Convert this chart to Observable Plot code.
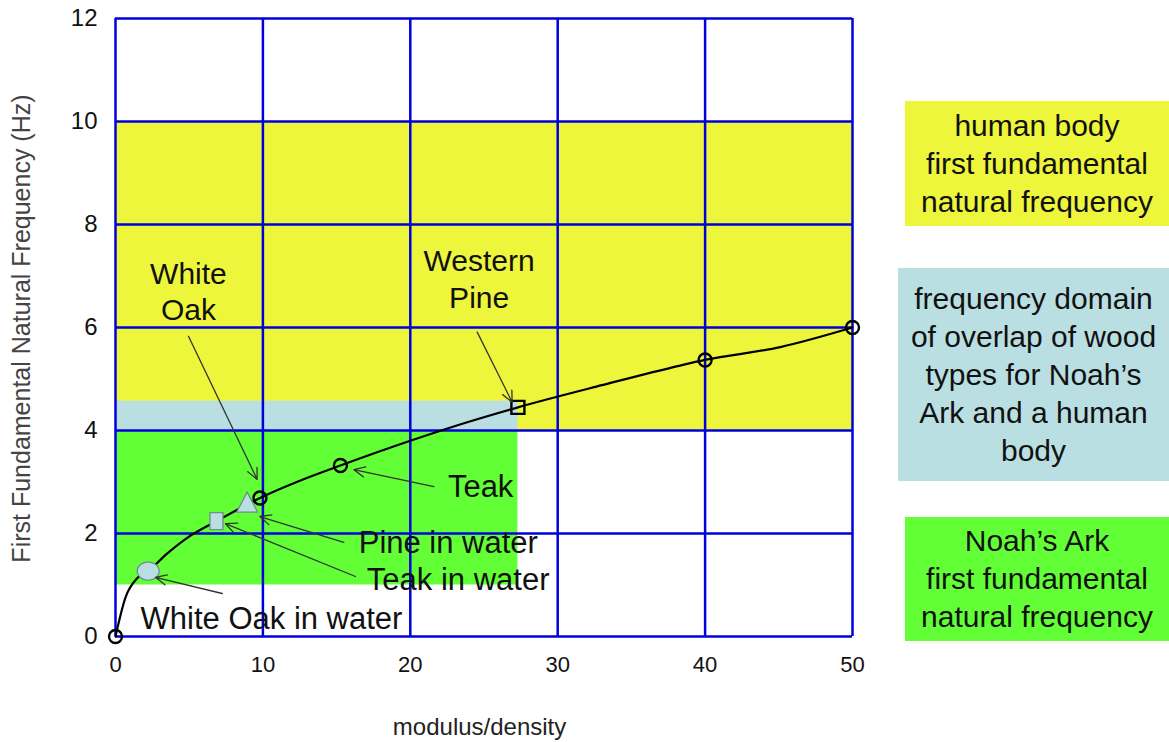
<!DOCTYPE html>
<html>
<head>
<meta charset="utf-8">
<script src="https://cdn.jsdelivr.net/npm/d3@7"></script>
<script src="https://cdn.jsdelivr.net/npm/@observablehq/plot@0.6"></script>
<style>
  html, body { margin: 0; padding: 0; background: #fff; }
  #wrap { position: relative; width: 1169px; height: 742px; font-family: "Liberation Sans", Arial, sans-serif; }
  .box { position: absolute; display: flex; align-items: center; justify-content: center; text-align: center;
         font-size: 30px; line-height: 38px; color: #111; white-space: nowrap; }
</style>
</head>
<body>
<div id="wrap"></div>
<script>
// ---- data ----
const xTicks = [0, 10, 20, 30, 40, 50];
const yTicks = [0, 2, 4, 6, 8, 10, 12];

// frequency bands
const bands = [
  {name: "human body", x1: 0, x2: 50, y1: 4, y2: 10, fill: "#EEF63C"},
  {name: "Noah's Ark", x1: 0, x2: 27.3, y1: 1, y2: 4, fill: "#63FF36"},
  {name: "overlap", x1: 0, x2: 27.3, y1: 4, y2: 4.57, fill: "#B9DFE3"}
];

// curve (modulus/density vs frequency)
const curveX = [0, 0.68, 1.47, 2.22, 3.5, 5.09, 6.85, 8.2, 9.8, 12.55, 15.26, 20.0, 23.86, 27.3, 33, 38.3, 40, 45.1, 50];
const curveY = [0, 0.76, 1.13, 1.27, 1.61, 1.96, 2.24, 2.45, 2.69, 3.03, 3.32, 3.8, 4.16, 4.45, 4.88, 5.26, 5.37, 5.62, 6];

// dry wood markers (open)
const dryNames = ["origin", "White Oak", "Teak", "Western Pine", "p40", "p50"];
const dryX = [0, 9.8, 15.26, 27.3, 40, 50];
const dryY = [0, 2.69, 3.32, 4.45, 5.37, 6];
const dryShape = ["circle", "circle", "circle", "square", "circle", "circle"];

// wood in water markers (filled light blue)
const wetNames = ["White Oak in water", "Teak in water", "Pine in water"];
const wetX = [2.22, 6.85, 8.93];
const wetY = [1.27, 2.24, 2.59];
const wetShape = ["ellipse", "tallsquare", "triangle"];

// annotation labels
const centeredLabels = [
  {text: "White\nOak", x: 4.95, y: 6.72},
  {text: "Western\nPine", x: 24.67, y: 6.97}
];
const leftLabels = [
  {text: "Teak", x: 22.55, y: 2.90},
  {text: "Pine in water", x: 16.5, y: 1.81},
  {text: "Teak in water", x: 17.05, y: 1.09},
  {text: "White Oak in water", x: 1.7, y: 0.33}
];
// annotation arrows
const arrows = [
  {x1: 4.95, y1: 5.83, x2: 9.61, y2: 3.05},
  {x1: 24.54, y1: 5.91, x2: 26.91, y2: 4.55},
  {x1: 21.6, y1: 2.91, x2: 16.17, y2: 3.24},
  {x1: 15.49, y1: 1.83, x2: 9.79, y2: 2.33},
  {x1: 16.28, y1: 1.165, x2: 7.46, y2: 2.19},
  {x1: 7.24, y1: 0.835, x2: 2.71, y2: 1.15}
];

const xLabel = "modulus/density";
const yLabel = "First Fundamental Natural Frequency (Hz)";

const legendBoxes = [
  {lines: ["human body", "first fundamental", "natural frequency"], fill: "#EEF63C", left: 905, top: 101, width: 264, height: 125},
  {lines: ["frequency domain", "of overlap of wood", "types for Noah\u2019s", "Ark and a human", "body"], fill: "#B9DFE3", left: 898, top: 268, width: 271, height: 213},
  {lines: ["Noah\u2019s Ark", "first fundamental", "natural frequency"], fill: "#63FF36", left: 905, top: 517, width: 264, height: 124}
];

// ---- build tables ----
const curve = curveX.map((x, i) => ({x, y: curveY[i]}));
const dry = dryX.map((x, i) => ({name: dryNames[i], x, y: dryY[i], shape: dryShape[i]}));
const wet = wetX.map((x, i) => ({name: wetNames[i], x, y: wetY[i], shape: wetShape[i]}));

// custom marker shapes
const symEllipse = {draw(ctx) { const rx = 11, ry = 9, n = 40;
  for (let k = 0; k <= n; k++) { const a = 2 * Math.PI * k / n; const px = rx * Math.cos(a), py = ry * Math.sin(a);
    k === 0 ? ctx.moveTo(px, py) : ctx.lineTo(px, py); } ctx.closePath(); }};
const symTallSquare = {draw(ctx) { ctx.moveTo(-6.5, -8.5); ctx.lineTo(6.5, -8.5); ctx.lineTo(6.5, 8.5); ctx.lineTo(-6.5, 8.5); ctx.closePath(); }};
const symTriangle = {draw(ctx) { ctx.moveTo(0, -11); ctx.lineTo(10.5, 9); ctx.lineTo(-10.5, 9); ctx.closePath(); }};
const symSquare = {draw(ctx) { ctx.moveTo(-6.5, -6.5); ctx.lineTo(6.5, -6.5); ctx.lineTo(6.5, 6.5); ctx.lineTo(-6.5, 6.5); ctx.closePath(); }};
const symCircle = {draw(ctx) { ctx.moveTo(6.5, 0); ctx.arc(0, 0, 6.5, 0, 2 * Math.PI); }};
const shapeMap = {ellipse: symEllipse, tallsquare: symTallSquare, triangle: symTriangle, square: symSquare, circle: symCircle};

const gridColor = "#0000DD";
const font = "Liberation Sans, Arial, sans-serif";

const chart = Plot.plot({
  width: 1169,
  height: 742,
  marginLeft: 115,
  marginRight: 317,
  marginTop: 18,
  marginBottom: 106,
  style: {fontFamily: font, background: "transparent", color: "#111", overflow: "visible"},
  x: {domain: [0, 50]},
  y: {domain: [0, 12]},
  marks: [
    Plot.rect(bands, {x1: "x1", x2: "x2", y1: "y1", y2: "y2", fill: "fill"}),
    Plot.ruleX(xTicks, {y1: 0, y2: 12, stroke: gridColor, strokeWidth: 2.5}),
    Plot.ruleY(yTicks, {x1: 0, x2: 50, stroke: gridColor, strokeWidth: 2.5}),
    Plot.axisX({ticks: xTicks, tickSize: 0, tickPadding: 20, fontSize: 22, label: null, tickFormat: d => d}),
    Plot.axisY({ticks: yTicks, tickSize: 0, tickPadding: 18, fontSize: 24, label: null, tickFormat: d => d}),
    Plot.line(curve, {x: "x", y: "y", curve: "monotone-x", stroke: "#000", strokeWidth: 2.2}),
    Plot.dot(dry, {x: "x", y: "y", symbol: d => shapeMap[d.shape], r: 6, fill: "none", stroke: "#000", strokeWidth: 2.4}),
    Plot.dot(wet, {x: "x", y: "y", symbol: d => shapeMap[d.shape], r: 6, fill: "#B9DFE3", stroke: "#6F8C92", strokeWidth: 1.3}),
    Plot.arrow(arrows, {x1: "x1", y1: "y1", x2: "x2", y2: "y2", stroke: "#333", strokeWidth: 1.3, headLength: 14, headAngle: 50}),
    Plot.text(centeredLabels, {x: "x", y: "y", text: "text", textAnchor: "middle", lineAnchor: "middle", fontSize: 30, lineHeight: 1.22, fill: "#111"}),
    Plot.text(leftLabels, {x: "x", y: "y", text: "text", textAnchor: "start", lineAnchor: "middle", fontSize: 31, fill: "#111"}),
    Plot.text([xLabel], {x: 24.7, y: -1.77, text: d => d, fontSize: 24, fill: "#222"}),
    Plot.text([yLabel], {x: -6.31, y: 5.98, text: d => d, rotate: -90, fontSize: 25, fill: "#444"})
  ]
});
const wrap = document.getElementById("wrap");
wrap.appendChild(chart);
chart.style.position = "absolute"; chart.style.left = "0"; chart.style.top = "0";

for (const b of legendBoxes) {
  const div = document.createElement("div");
  div.className = "box";
  Object.assign(div.style, {left: b.left + "px", top: b.top + "px", width: b.width + "px", height: b.height + "px", background: b.fill});
  const inner = document.createElement("div");
  for (const l of b.lines) { const s = document.createElement("span"); s.style.display = "block"; s.textContent = l; inner.appendChild(s); }
  div.appendChild(inner);
  wrap.appendChild(div);
}
</script>
</body>
</html>
